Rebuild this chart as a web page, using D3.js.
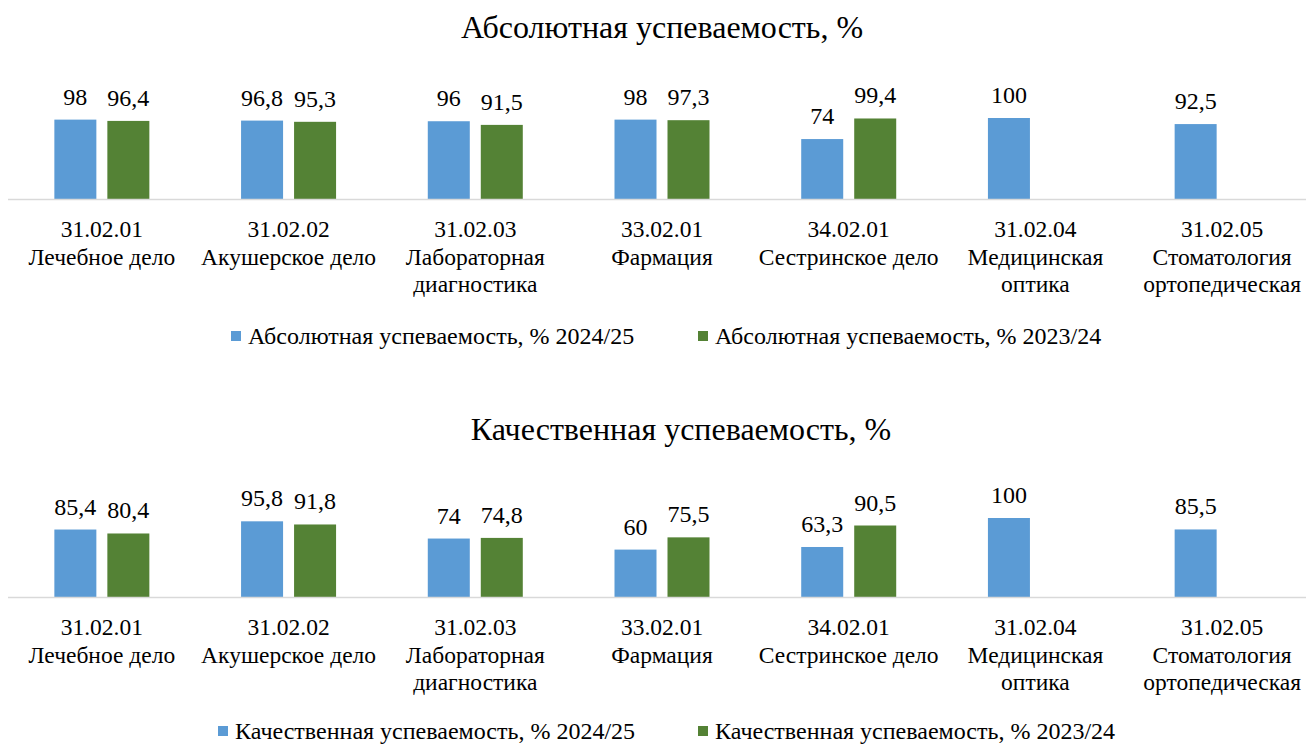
<!DOCTYPE html>
<html><head><meta charset="utf-8"><script src="https://cdn.jsdelivr.net/npm/d3@7"></script></head>
<body style="margin:0">
<script>
var codes = ['31.02.01', '31.02.02', '31.02.03', '33.02.01', '34.02.01', '31.02.04', '31.02.05'];
var names = ['Лечебное дело', 'Акушерское дело', 'Лабораторная\nдиагностика', 'Фармация',
             'Сестринское дело', 'Медицинская\nоптика', 'Стоматология\nортопедическая'];
var years = ['2024/25', '2023/24'];

var absolute2425 = [98, 96.8, 96, 98, 74, 100, 92.5];
var absolute2324 = [96.4, 95.3, 91.5, 97.3, 99.4, null, null];
var quality2425 = [85.4, 95.8, 74, 60, 63.3, 100, 85.5];
var quality2324 = [80.4, 91.8, 74.8, 75.5, 90.5, null, null];

var colors = ['#5b9bd5', '#548235'];
var FONT = "'Liberation Serif'";
var W = 1306, H = 745;

var svg = d3.select('body').append('svg')
    .attr('width', W)
    .attr('height', H);

function fmt(v) {
    return String(v).replace('.', ',');
}

function drawChart(top, title, titleX, series, baseY, barH, legendX, legendDy) {
    var g = svg.append('g').attr('transform', 'translate(0,' + top + ')');

    g.append('text')
        .attr('x', titleX).attr('y', 38)
        .attr('text-anchor', 'middle')
        .attr('font-family', FONT)
        .attr('font-size', 32)
        .text(title);

    var x0 = d3.scaleBand().domain(codes).range([8.5, 1315.5]);
    var bw = x0.bandwidth();
    var x1 = d3.scaleBand().domain(years)
        .range([bw / 2 - 47.5, bw / 2 + 47.5])
        .paddingInner(0.2075);
    var y = d3.scaleLinear().domain([0, 100]).range([baseY, baseY - barH]);

    var rows = [];
    codes.forEach(function (c, i) {
        years.forEach(function (yr, j) {
            if (series[j][i] != null) rows.push({ code: c, year: yr, value: series[j][i], s: j });
        });
    });

    g.selectAll('rect.bar')
        .data(rows)
        .enter().append('rect')
        .attr('class', 'bar')
        .attr('x', function (d) { return x0(d.code) + x1(d.year); })
        .attr('y', function (d) { return y(d.value); })
        .attr('width', x1.bandwidth())
        .attr('height', function (d) { return baseY - y(d.value); })
        .attr('fill', function (d) { return colors[d.s]; });

    g.selectAll('text.val')
        .data(rows)
        .enter().append('text')
        .attr('class', 'val')
        .attr('x', function (d) { return x0(d.code) + x1(d.year) + x1.bandwidth() / 2; })
        .attr('y', function (d) { return y(d.value) - 15; })
        .attr('text-anchor', 'middle')
        .attr('font-family', FONT)
        .attr('font-size', 24)
        .text(function (d) { return fmt(d.value); });

    g.append('line')
        .attr('x1', 8).attr('x2', W)
        .attr('y1', baseY + 0.5).attr('y2', baseY + 0.5)
        .attr('stroke', '#d9d9d9')
        .attr('stroke-width', 1.5);

    var ticks = g.selectAll('text.tick')
        .data(codes)
        .enter().append('text')
        .attr('class', 'tick')
        .attr('text-anchor', 'middle')
        .attr('x', function (d) { return x0(d) + bw / 2; })
        .attr('y', baseY + 38)
        .attr('font-family', FONT)
        .attr('font-size', 23.5);
    ticks.each(function (d, i) {
        var t = d3.select(this);
        var lines = [d].concat(names[i].split('\n'));
        lines.forEach(function (ln, k) {
            t.append('tspan')
                .attr('x', x0(d) + bw / 2)
                .attr('dy', k == 0 ? 0 : 27.5)
                .text(ln);
        });
    });

    var leg = g.selectAll('g.leg')
        .data(years)
        .enter().append('g')
        .attr('class', 'leg')
        .attr('transform', function (d, i) { return 'translate(' + legendX[i] + ',' + (baseY + legendDy) + ')'; });
    leg.append('rect')
        .attr('x', 0).attr('y', -13)
        .attr('width', 10).attr('height', 10)
        .attr('fill', function (d, i) { return colors[i]; });
    leg.append('text')
        .attr('x', 17).attr('y', 0)
        .attr('font-family', FONT)
        .attr('font-size', 24)
        .text(function (d) { return title + ' ' + d; });
}

drawChart(0, 'Абсолютная успеваемость, %', 662, [absolute2425, absolute2324], 199, 81, [231, 698], 145);
drawChart(402, 'Качественная успеваемость, %', 681, [quality2425, quality2324], 195, 79, [218, 698], 142);
</script>
</body>
</html>
